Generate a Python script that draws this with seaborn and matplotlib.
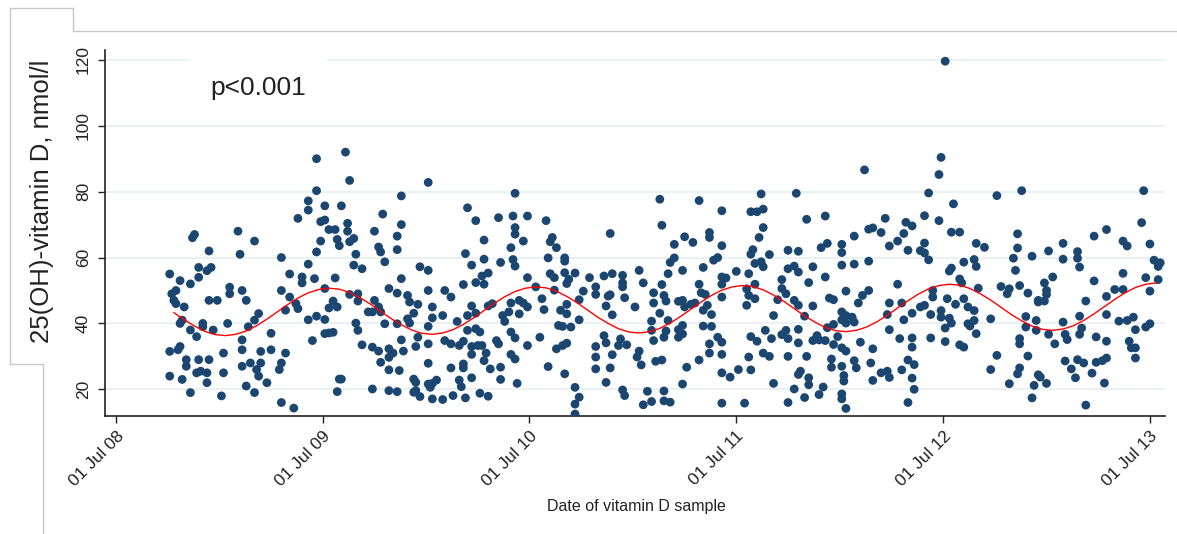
import numpy as np
import pandas as pd
import matplotlib
matplotlib.use("Agg")
import matplotlib.pyplot as plt
import matplotlib.dates as mdates
from matplotlib.lines import Line2D
import seaborn as sns

# ---------------- data (decimal year of sample, 25(OH)-vitamin D nmol/l) ----------------
samples_2008_09 = [
    (2008.76, 55), (2008.81, 53), (2008.86, 52), (2008.88, 67), (2008.87, 66), (2008.90, 57), (2008.90, 54), (2008.94, 56), (2008.96, 57), (2008.95, 62),
    (2008.77, 49), (2008.79, 50), (2008.78, 47), (2008.79, 46), (2008.83, 45), (2008.95, 47), (2008.99, 47), (2009.05, 51), (2009.05, 49), (2009.09, 68),
    (2009.10, 61), (2009.17, 65), (2009.11, 50), (2009.13, 47), (2009.30, 60), (2009.30, 50), (2009.34, 55), (2008.81, 40), (2008.82, 41), (2008.86, 38),
    (2008.89, 36), (2008.92, 40), (2008.92, 39), (2008.97, 38), (2009.04, 40), (2009.14, 39), (2009.17, 41), (2009.19, 43), (2009.25, 37), (2009.32, 44),
    (2008.76, 31.5), (2008.80, 32), (2008.81, 33), (2008.84, 29), (2008.84, 27), (2008.90, 29), (2008.95, 29), (2009.02, 31), (2009.11, 35), (2009.11, 32),
    (2009.20, 31.5), (2009.25, 32), (2009.32, 31), (2008.76, 24), (2008.82, 23), (2008.89, 25), (2008.91, 25.5), (2008.94, 25), (2008.94, 22), (2009.02, 25),
    (2009.11, 27), (2009.15, 28), (2009.20, 28), (2009.18, 26), (2009.19, 24), (2009.23, 22), (2009.29, 26), (2009.30, 28), (2008.86, 19), (2009.01, 18),
    (2009.13, 21), (2009.17, 19), (2009.30, 16),
]
samples_2009_10 = [
    (2009.47, 90), (2009.61, 92), (2009.63, 83.4), (2009.47, 80.3), (2009.43, 77.2), (2009.43, 74.4), (2009.51, 75.7), (2009.59, 75.7), (2009.38, 71.9), (2009.49, 70.9),
    (2009.51, 71.4), (2009.62, 70.4), (2009.53, 68.5), (2009.56, 68.5), (2009.62, 68), (2009.57, 65.5), (2009.58, 63.6), (2009.49, 65), (2009.63, 64.8), (2009.65, 65.8),
    (2009.47, 61.7), (2009.66, 61), (2009.65, 57.7), (2009.69, 56.6), (2009.43, 58), (2009.40, 54.1), (2009.40, 52.3), (2009.46, 53.6), (2009.56, 53.8), (2009.34, 48),
    (2009.38, 44.5), (2009.37, 46), (2009.51, 50.6), (2009.55, 46.8), (2009.53, 44.7), (2009.57, 45), (2009.63, 48.8), (2009.67, 46.8), (2009.67, 49), (2009.75, 47),
    (2009.77, 45), (2009.72, 43.5), (2009.74, 43.5), (2009.78, 43.5), (2009.82, 50.6), (2009.86, 49.2), (2009.91, 48.5), (2009.92, 46.5), (2009.91, 41.4), (2009.94, 43.1),
    (2009.75, 68), (2009.79, 73.2), (2009.88, 78.7), (2009.88, 70), (2009.86, 66.5), (2009.86, 62.4), (2009.77, 63.2), (2009.78, 61.7), (2009.80, 58.7), (2009.88, 53.6),
    (2009.43, 41.1), (2009.47, 42.2), (2009.51, 41.2), (2009.51, 36.9), (2009.53, 37.1), (2009.55, 37.3), (2009.45, 34.8), (2009.66, 40.1), (2009.67, 37.9), (2009.69, 33.5),
    (2009.80, 39.9), (2009.86, 39.9), (2009.92, 40.1), (2009.88, 35), (2009.89, 31.6), (2009.74, 32.8), (2009.77, 31.6), (2009.82, 32.3), (2009.84, 31), (2009.82, 29.7),
    (2009.78, 28.2), (2009.82, 25.9), (2009.87, 25.7), (2009.58, 23.1), (2009.59, 23.1), (2009.57, 19.3), (2009.74, 20.1), (2009.82, 19.6), (2009.86, 19.3), (2009.94, 23.1),
    (2009.94, 19.1), (2009.36, 14.3), (2009.95, 33),
]
samples_2010 = [
    (2010.01, 82.8), (2010.43, 79.5), (2010.20, 75.1), (2010.24, 71.2), (2010.35, 72.1), (2010.42, 72.6), (2010.49, 72.6), (2010.43, 69.1), (2010.43, 67.1), (2010.47, 65),
    (2010.28, 65.3), (2010.41, 63), (2010.19, 61.2), (2010.28, 59.5), (2010.36, 58.5), (2010.42, 59.4), (2010.43, 57.4), (2010.22, 57.7), (2009.97, 57.2), (2010.01, 56.1),
    (2010.30, 55.3), (2010.27, 54.4), (2010.24, 52.4), (2010.28, 51.9), (2010.18, 51.8), (2010.49, 53.9), (2010.53, 51.1), (2010.01, 50), (2010.09, 50), (2010.12, 48),
    (2009.96, 45.8), (2010.03, 45), (2010.22, 45.3), (2010.30, 45.3), (2010.32, 46), (2010.41, 46.2), (2010.45, 47), (2010.47, 46.2), (2010.49, 45), (2010.03, 41.7),
    (2010.08, 42.4), (2010.20, 42.4), (2010.24, 43.1), (2010.37, 42.4), (2010.38, 40.6), (2010.40, 43.5), (2010.45, 42.9), (2010.15, 40.6), (2010.01, 39.1), (2009.96, 35.8),
    (2010.09, 34.8), (2010.12, 33.8), (2010.16, 33.3), (2010.18, 34.6), (2010.20, 37.9), (2010.24, 38.4), (2010.26, 37.4), (2010.22, 33), (2010.25, 33.3), (2010.27, 33.3),
    (2010.22, 30.6), (2010.29, 31), (2010.28, 28.7), (2010.34, 34.8), (2010.35, 33.8), (2010.41, 37.4), (2010.43, 35.6), (2010.49, 33.3), (2010.55, 35.8), (2010.01, 33.8),
    (2010.41, 30.6), (2010.43, 29.2), (2010.01, 27.9), (2010.18, 27.7), (2010.18, 26.5), (2010.12, 26.5), (2010.31, 26.2), (2010.36, 26.7), (2009.95, 22.1),
    (2009.95, 19.6), (2009.97, 17.8), (2010.01, 21.6), (2010.03, 21.8), (2010.05, 22.8), (2010.02, 20.6), (2010.16, 22.8), (2010.17, 20.8), (2010.22, 23.5), (2010.36, 23),
    (2010.44, 21.8), (2010.03, 17.1), (2010.08, 16.9), (2010.13, 18.1), (2010.19, 17.4), (2010.26, 18.8), (2010.30, 17.9),
]
samples_2010_11 = [
    (2010.58, 71.2), (2010.61, 66.1), (2010.60, 64.8), (2010.63, 63), (2010.59, 59.9), (2010.67, 59.9), (2010.67, 58.9), (2010.60, 55.1), (2010.62, 53.9), (2010.67, 55.4),
    (2010.72, 55.3), (2010.69, 53.4), (2010.68, 52.1), (2010.62, 50.1), (2010.56, 47.5), (2010.57, 44.2), (2010.65, 44), (2010.68, 45.8), (2010.68, 42.9), (2010.76, 49.8),
    (2010.74, 47.2), (2010.79, 53.9), (2010.82, 51.1), (2010.82, 48.8), (2010.86, 54.4), (2010.90, 55.1), (2010.88, 48.3), (2010.89, 48.7), (2010.87, 45.3), (2010.90, 42.6),
    (2010.89, 67.3), (2010.95, 54.6), (2010.95, 52.3), (2010.95, 51.1), (2010.96, 47.8), (2011.03, 56.1), (2011.05, 52.3), (2011.01, 45), (2011.10, 49.3), (2011.10, 46.2),
    (2011.14, 51.8), (2011.15, 48.5), (2011.13, 77.7), (2011.14, 69.8), (2011.13, 43.1), (2011.09, 40.7), (2011.09, 37.9), (2011.10, 34.8), (2011.15, 35.8), (2010.64, 39.4),
    (2010.66, 39.1), (2010.70, 38.9), (2010.74, 41.1), (2010.63, 32.3), (2010.66, 33.3), (2010.68, 34), (2010.59, 26.9), (2010.67, 24.7), (2010.86, 36.3), (2010.87, 34.1),
    (2010.94, 35.3), (2010.93, 33.3), (2010.82, 33), (2010.90, 30.5), (2010.97, 33.5), (2010.82, 29.8), (2010.82, 26.2), (2010.89, 26.5), (2011.02, 29.8), (2011.03, 31.6),
    (2011.04, 27.4), (2011.11, 28.5), (2011.14, 28.9), (2010.87, 22.1), (2010.72, 20.6), (2010.74, 17.6), (2010.72, 15.5), (2010.72, 12.5), (2010.95, 19.8), (2010.96, 18.1),
    (2011.07, 19.4), (2011.05, 15.3), (2011.09, 16.3), (2011.15, 16.5),
]
samples_2011 = [
    (2011.32, 77.3), (2011.43, 74.2), (2011.62, 79.3), (2011.57, 73.9), (2011.60, 73.9), (2011.63, 74.7), (2011.63, 69.1), (2011.61, 66.1), (2011.37, 67.6), (2011.37, 66.1),
    (2011.25, 66.3), (2011.29, 64.6), (2011.20, 64), (2011.43, 63.6), (2011.58, 62.4), (2011.57, 61), (2011.66, 60.9), (2011.75, 62.2), (2011.20, 59.9), (2011.18, 58.5),
    (2011.39, 59.2), (2011.41, 60), (2011.34, 57), (2011.24, 56.1), (2011.17, 55.1), (2011.50, 55.8), (2011.56, 55.1), (2011.59, 58.2), (2011.62, 58.7), (2011.63, 57.2),
    (2011.75, 56.6), (2011.43, 54.1), (2011.45, 53.8), (2011.43, 51.9), (2011.32, 51.9), (2011.33, 49.3), (2011.35, 48.8), (2011.43, 48), (2011.55, 50.5), (2011.56, 48.5),
    (2011.59, 47.5), (2011.59, 51.9), (2011.55, 45.5), (2011.72, 53.3), (2011.72, 50.6), (2011.74, 49), (2011.70, 47.2), (2011.16, 46.8), (2011.22, 46.7), (2011.24, 47),
    (2011.25, 45), (2011.28, 45.8), (2011.30, 46.2), (2011.36, 45.5), (2011.34, 44), (2011.38, 42.7), (2011.68, 42.4), (2011.17, 40.9), (2011.16, 37.7), (2011.24, 39.4),
    (2011.22, 38.1), (2011.24, 36.8), (2011.22, 35.8), (2011.34, 39.2), (2011.38, 39.1), (2011.41, 35.8), (2011.43, 34.3), (2011.37, 33.8), (2011.57, 36), (2011.60, 34.6),
    (2011.64, 37.9), (2011.67, 35.4), (2011.72, 36.6), (2011.74, 37.9), (2011.75, 35.4), (2011.37, 31), (2011.43, 30.6), (2011.56, 29.8), (2011.63, 31), (2011.66, 30),
    (2011.75, 30), (2011.32, 28.9), (2011.26, 26.7), (2011.43, 25), (2011.47, 23.7), (2011.51, 26), (2011.57, 25.9), (2011.24, 21.6), (2011.68, 21.8), (2011.15, 19.5),
    (2011.18, 16.1), (2011.43, 15.8), (2011.54, 15.8), (2011.75, 16),
]
samples_2011_12 = [
    (2012.12, 86.6), (2011.79, 79.5), (2011.84, 71.6), (2011.93, 72.6), (2012.22, 71.9), (2012.32, 70.7), (2012.35, 69.6), (2012.14, 68.6), (2012.16, 69), (2012.20, 67.6),
    (2012.07, 66.5), (2012.31, 67.3), (2012.28, 65), (2012.24, 63.5), (2012.33, 62.2), (2011.94, 64.3), (2011.91, 63), (2012.01, 64), (2012.01, 61.5), (2011.80, 61.9),
    (2012.07, 58), (2012.14, 58.9), (2012.01, 57.7), (2011.87, 57.2), (2011.78, 57.4), (2011.80, 55.6), (2011.93, 54.1), (2011.85, 52.4), (2012.28, 51.9), (2012.03, 49.8),
    (2012.14, 50), (2012.11, 48.5), (2012.09, 46.2), (2011.95, 47.7), (2011.97, 47.2), (2011.78, 47), (2011.80, 45.5), (2011.87, 45.3), (2011.83, 42.2), (2012.01, 43.5),
    (2012.03, 42.4), (2012.06, 41.9), (2012.03, 40.1), (2012.01, 41.1), (2012.07, 40.4), (2012.24, 46.2), (2012.23, 42.7), (2012.30, 46.2), (2012.35, 43.1), (2012.31, 41.1),
    (2011.97, 39.7), (2011.94, 38.7), (2012.24, 38.1), (2011.80, 38.2), (2011.80, 34.1), (2011.87, 34.8), (2011.89, 36.3), (2011.90, 35), (2011.93, 34.8), (2011.99, 36),
    (2011.97, 33.6), (2012.10, 34.3), (2012.01, 32.6), (2012.03, 31.6), (2012.16, 32.3), (2012.29, 35.4), (2012.35, 35.6), (2012.35, 32.8), (2011.84, 30), (2012.33, 28.9),
    (2012.07, 28.7), (2012.08, 26.5), (2012.15, 28), (2011.96, 26.7), (2011.96, 29.2), (2012.01, 27), (2012.20, 25), (2012.23, 25.5), (2012.24, 23.6), (2012.30, 25.9),
    (2012.35, 23.4), (2011.81, 25.5), (2011.80, 24.5), (2011.85, 23.5), (2011.85, 21.4), (2012.02, 24.2), (2012.02, 22.5), (2012.16, 22.7), (2011.92, 20.7), (2011.78, 20.1),
    (2011.90, 18.4), (2011.83, 17.5), (2012.01, 18.6), (2012.01, 17.1), (2012.03, 14.2), (2012.33, 16), (2012.36, 20),
]
samples_2012 = [
    (2012.51, 119.6), (2012.49, 90.4), (2012.48, 85.2), (2012.43, 79.6), (2012.76, 78.8), (2012.88, 80.3), (2012.55, 76.3), (2012.41, 72.7), (2012.48, 71.2), (2012.54, 67.7),
    (2012.58, 67.7), (2012.86, 67.2), (2012.41, 64.4), (2012.39, 62.1), (2012.41, 61.4), (2012.43, 59.3), (2012.66, 64.3), (2012.70, 63.1), (2012.86, 62.9), (2012.84, 59.8),
    (2012.93, 60.4), (2012.65, 59.4), (2012.66, 57.3), (2012.60, 58.6), (2012.54, 56.8), (2012.53, 55.9), (2012.85, 56.1), (2012.58, 53.5), (2012.59, 52.3), (2012.67, 50.7),
    (2012.78, 51.2), (2012.82, 50.5), (2012.81, 49), (2012.87, 51.5), (2012.91, 49.2), (2012.96, 47), (2012.45, 50), (2012.45, 48), (2012.52, 47.5), (2012.60, 47.5),
    (2012.56, 45.8), (2012.62, 45), (2012.65, 43.9), (2012.39, 45), (2012.41, 45.5), (2012.44, 42.7), (2012.49, 43.9), (2012.49, 41.9), (2012.53, 41.6), (2012.54, 40.1),
    (2012.51, 38.6), (2012.62, 39.9), (2012.65, 40.9), (2012.63, 39.2), (2012.66, 36.9), (2012.73, 41.4), (2012.90, 42.1), (2012.90, 38.9), (2012.95, 40.9), (2012.95, 37.9),
    (2012.44, 35.6), (2012.51, 34.5), (2012.58, 33.5), (2012.60, 32.8), (2012.87, 35.4), (2012.87, 33.8), (2012.76, 30.3), (2012.91, 30.1), (2012.36, 27.5), (2012.73, 26),
    (2012.87, 26.5), (2012.86, 24.7), (2012.96, 24.4), (2012.82, 21.7), (2012.94, 21.2), (2012.93, 17.4),
]
samples_2013 = [
    (2013.47, 80.3), (2013.46, 70.6), (2013.29, 68.5), (2013.23, 66.5), (2013.37, 65), (2013.39, 63.5), (2013.50, 64.1), (2013.08, 64.3), (2013.01, 62), (2013.15, 61.8),
    (2013.15, 59.8), (2013.16, 57.1), (2013.08, 59.5), (2013.52, 59.2), (2013.54, 57.3), (2013.55, 58.4), (2013.37, 55.2), (2013.03, 54.1), (2012.99, 52.3), (2013.23, 52.9),
    (2013.48, 53.9), (2013.54, 53.3), (2013.00, 50), (2013.00, 48.8), (2013.33, 50.3), (2013.37, 50.3), (2013.50, 49.8), (2013.29, 48.2), (2012.96, 46.5), (2012.99, 46.8),
    (2013.19, 46.8), (2013.16, 42.2), (2013.29, 42.7), (2013.35, 40.7), (2013.39, 40.9), (2013.42, 41.9), (2013.43, 38.1), (2013.48, 38.9), (2013.50, 39.9), (2013.08, 40.4),
    (2013.01, 36.7), (2013.04, 33.8), (2013.09, 36.7), (2013.10, 35.1), (2013.17, 38.6), (2013.16, 36.7), (2013.24, 35.9), (2013.29, 34.6), (2013.40, 34.6), (2013.41, 32.6),
    (2013.43, 32.6), (2013.43, 29.5), (2013.09, 28.6), (2013.12, 26.2), (2013.15, 29), (2013.18, 28), (2013.24, 28.2), (2013.27, 28.7), (2013.29, 29.5), (2013.22, 24.9),
    (2013.14, 23.5), (2013.28, 21.9), (2012.97, 23.7), (2013.00, 21.8), (2013.19, 15.2),
]

# seasonal fit curve (red), read every 0.05 year starting at 2008.78
fit_start_year = 2008.78
fit_step_year = 0.05
fit_values = [
    43.3, 41.1, 39.2, 37.6, 36.6, 36.3, 36.7, 37.7, 39.3, 41.3, 43.5, 45.7, 47.7, 49.3, 50.3, 50.7, 50.4, 49.4, 47.8, 45.9,
    43.7, 41.5, 39.6, 38.0, 37.0, 36.7, 37.1, 38.1, 39.7, 41.7, 43.9, 46.1, 48.1, 49.7, 50.7, 51.1, 50.8, 49.8, 48.2, 46.3,
    44.1, 41.9, 40.0, 38.4, 37.4, 37.1, 37.5, 38.5, 40.1, 42.1, 44.3, 46.5, 48.5, 50.1, 51.1, 51.5, 51.2, 50.2, 48.6, 46.7,
    44.5, 42.3, 40.4, 38.8, 37.8, 37.5, 37.9, 38.9, 40.5, 42.5, 44.7, 46.9, 48.9, 50.5, 51.5, 51.9, 51.6, 50.6, 49.0, 47.1,
    44.9, 42.7, 40.8, 39.2, 38.2, 37.9, 38.3, 39.3, 40.9, 42.9, 45.1, 47.3, 49.3, 50.9, 51.9, 52.3,
]

y_ticks = [20, 40, 60, 80, 100, 120]
x_tick_dates = ["2008-07-01", "2009-07-01", "2010-07-01", "2011-07-01", "2012-07-01", "2013-07-01"]
y_label = "25(OH)-vitamin D, nmol/l"
x_label = "Date of vitamin D sample"
p_text = "p<0.001"

# ---------------- helpers ----------------
BASE = pd.Timestamp("2008-07-01")


def to_date(yr):
    yr = np.asarray(yr, dtype=float)
    return BASE + pd.to_timedelta((yr - 2008.5) * 365.25, unit="D")


all_samples = (samples_2008_09 + samples_2009_10 + samples_2010 + samples_2010_11
               + samples_2011 + samples_2011_12 + samples_2012 + samples_2013)
df = pd.DataFrame(all_samples, columns=["year", "vitd"])
df["date"] = to_date(df["year"].values)

fit_years = fit_start_year + fit_step_year * np.arange(len(fit_values))
fit_df = pd.DataFrame({"date": to_date(fit_years), "vitd": fit_values})

# ---------------- figure ----------------
sns.set_style("ticks")
plt.rcParams["font.family"] = ["Liberation Sans", "DejaVu Sans"]

W, H = 1177, 534
fig = plt.figure(figsize=(W / 100, H / 100), dpi=100)
fig.patch.set_facecolor("white")

left, right, top, bottom = 105, 1165, 50, 416
ax = fig.add_axes([left / W, 1 - bottom / H, (right - left) / W, (bottom - top) / H])

sns.scatterplot(data=df, x="date", y="vitd", color="#1a4670", s=40, linewidth=0,
                edgecolor="none", ax=ax, zorder=3)
sns.lineplot(data=fit_df, x="date", y="vitd", color="#ff0000", linewidth=1.0,
             estimator=None, sort=False, ax=ax, zorder=4)

ax.set_xlim(to_date(2008.447), to_date(2013.573))
ax.set_ylim(11.9, 123.0)

ax.set_yticks(y_ticks)
ax.set_yticklabels([str(v) for v in y_ticks])
ax.yaxis.grid(True, color="#eaf1f3", linewidth=1.5)
ax.xaxis.grid(False)
ax.set_axisbelow(True)

tick_dates = pd.to_datetime(x_tick_dates)
ax.set_xticks(tick_dates)
ax.xaxis.set_major_formatter(mdates.DateFormatter("%d %b %y"))

for s in ["top", "right"]:
    ax.spines[s].set_visible(False)
for s in ["left", "bottom"]:
    ax.spines[s].set_linewidth(1.2)
    ax.spines[s].set_color("#222222")

ax.tick_params(axis="y", length=5, width=1.0, pad=5, labelsize=12.5, colors="#222222")
ax.tick_params(axis="x", length=5, width=1.0, pad=4, labelsize=12.5, colors="#222222")
for lab in ax.get_yticklabels():
    lab.set_rotation(90)
    lab.set_va("center")
for lab in ax.get_xticklabels():
    lab.set_rotation(45)
    lab.set_ha("right")
    lab.set_va("top")
    lab.set_rotation_mode("anchor")

ax.set_xlabel("")
ax.set_ylabel("")

fig.text(636 / W, 1 - 507 / H, x_label, ha="center", va="center", fontsize=11.5, color="#222222")
fig.text(42 / W, 1 - 201 / H, y_label, ha="center", va="center", rotation=90,
         fontsize=18.5, color="#222222")
fig.text(210 / W, 1 - 88 / H, p_text, ha="left", va="center", fontsize=19, color="#222222",
         bbox=dict(boxstyle="square,pad=0.8", fc="white", ec="none"))

# frame lines of the pasted panel
frame_segments = [
    ((10, 8), (73, 8)),
    ((73, 8), (73, 31)),
    ((73, 31), (1177, 31)),
    ((10, 8), (10, 364)),
    ((10, 364), (43, 364)),
    ((43, 364), (43, 534)),
]
for (x0, y0), (x1, y1) in frame_segments:
    fig.add_artist(Line2D([x0 / W, x1 / W], [1 - y0 / H, 1 - y1 / H],
                          transform=fig.transFigure, color="#c8c8c8", linewidth=1.0))

fig.savefig("out.png", dpi=100, facecolor="white")
